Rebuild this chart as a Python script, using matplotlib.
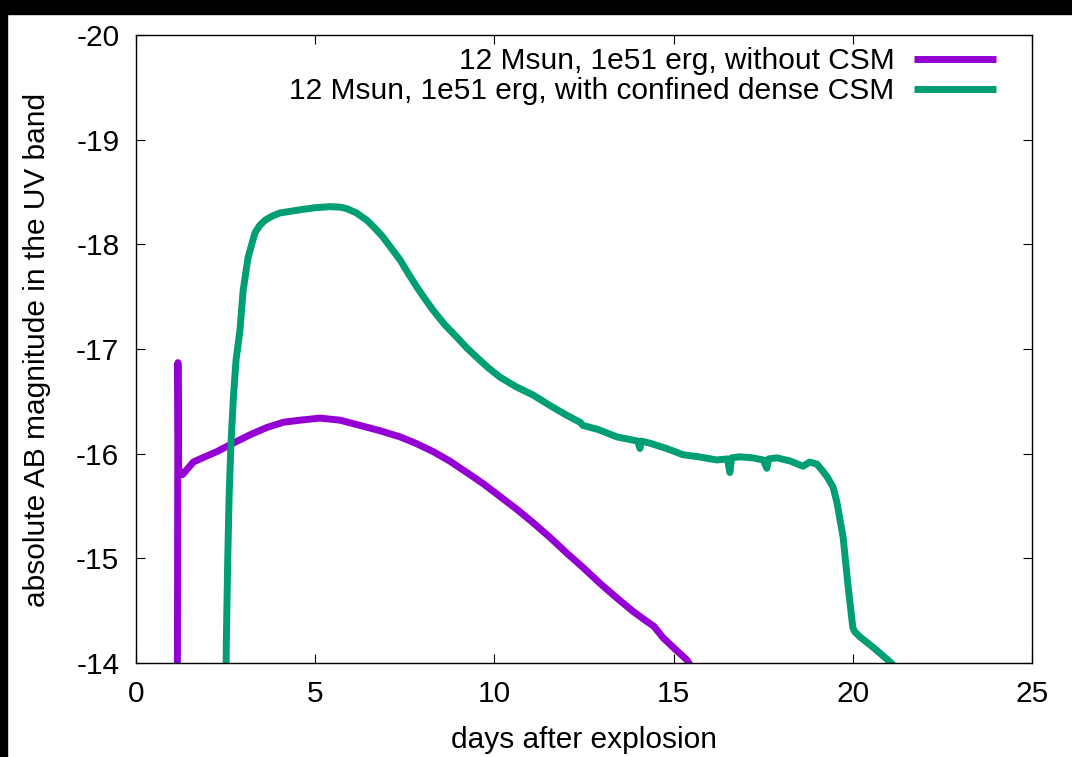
import matplotlib
matplotlib.use("Agg")
import matplotlib.pyplot as plt
import matplotlib.patches as patches

plt.rcParams['font.family'] = ['Liberation Sans', 'DejaVu Sans']
plt.rcParams['axes.unicode_minus'] = False

PURPLE = '#9400d3'
GREEN = '#009e73'
FS = 21.5

# light curves (days, AB mag)
days_no_csm = [1.15, 1.17, 1.19, 1.30, 1.45, 1.60, 1.79, 2.26, 2.71, 3.18, 3.65,
               4.11, 4.58, 5.13, 5.69, 6.25, 6.80, 7.37, 7.80, 8.29, 8.75, 9.23,
               9.70, 10.16, 10.62, 11.08, 11.55, 12.02, 12.48, 12.95, 13.42,
               13.88, 14.20, 14.45, 14.71, 15.05, 15.37, 15.60]
mag_no_csm = [-13.0, -16.87, -15.85, -15.80, -15.86, -15.92, -15.95, -16.02, -16.10,
              -16.18, -16.25, -16.30, -16.32, -16.34, -16.32, -16.27, -16.22,
              -16.16, -16.10, -16.02, -15.93, -15.82, -15.71, -15.59, -15.47,
              -15.34, -15.20, -15.05, -14.91, -14.76, -14.62, -14.49, -14.41,
              -14.35, -14.24, -14.13, -14.03, -13.90]

days_csm = [2.49, 2.52, 2.56, 2.60, 2.65, 2.72, 2.79, 2.90, 2.99, 3.13, 3.32, 3.45,
            3.60, 3.80, 4.02, 4.58, 5.00, 5.41, 5.70, 5.89, 6.15, 6.44, 6.65, 6.89,
            7.13, 7.37, 7.60, 7.84, 8.06, 8.29, 8.62, 8.96, 9.23, 9.51, 9.83,
            10.16, 10.60, 11.08, 11.55, 12.00, 12.39, 12.47, 12.90, 13.42, 14.00,
            14.06, 14.10, 14.34, 14.80, 15.26, 15.70, 16.20, 16.50, 16.57, 16.62,
            16.85, 17.20, 17.50, 17.60, 17.65, 17.88, 18.25, 18.61, 18.80, 19.00,
            19.17, 19.28, 19.45, 19.56, 19.73, 19.87, 20.00, 20.05, 20.20, 20.60,
            21.04, 21.20]
mag_csm = [-13.0, -14.20, -15.00, -15.62, -16.10, -16.55, -16.89, -17.18, -17.56,
           -17.88, -18.11, -18.18, -18.23, -18.27, -18.30, -18.33, -18.35, -18.36,
           -18.355, -18.34, -18.30, -18.23, -18.16, -18.07, -17.96, -17.85, -17.72,
           -17.59, -17.48, -17.37, -17.23, -17.11, -17.01, -16.92, -16.82, -16.73,
           -16.64, -16.56, -16.46, -16.37, -16.30, -16.27, -16.23, -16.16, -16.12,
           -16.05, -16.12, -16.10, -16.05, -15.99, -15.97, -15.94, -15.95, -15.82,
           -15.96, -15.97, -15.96, -15.94, -15.86, -15.95, -15.96, -15.93, -15.88,
           -15.92, -15.90, -15.83, -15.78, -15.68, -15.53, -15.20, -14.73, -14.34,
           -14.30, -14.25, -14.14, -14.01, -13.95]

x_ticks = [0, 5, 10, 15, 20, 25]
y_ticks = [-20, -19, -18, -17, -16, -15, -14]

fig = plt.figure(figsize=(10.72, 7.57), dpi=100)
fig.patch.set_facecolor('white')
# dark frame strips around the screenshot
fig.patches.append(patches.Rectangle((0, 1 - 14 / 757), 1, 14 / 757,
                                     transform=fig.transFigure, color='black', zorder=0))
fig.patches.append(patches.Rectangle((0, 0), 7 / 1072, 1,
                                     transform=fig.transFigure, color='black', zorder=0))

ax = fig.add_axes([136 / 1072, 1 - 663 / 757, 896 / 1072, 628 / 757])

ax.plot(days_no_csm, mag_no_csm, color=PURPLE, lw=5, solid_capstyle='butt',
        label='12 Msun, 1e51 erg, without CSM')
ax.plot(days_csm, mag_csm, color=GREEN, lw=5, solid_capstyle='butt',
        label='12 Msun, 1e51 erg, with confined dense CSM')

ax.set_xlim(0, 25)
ax.set_ylim(-14, -20)
ax.set_xticks(x_ticks)
ax.set_yticks(y_ticks)
ax.tick_params(direction='in', length=6.5, width=0.8, top=True, right=True,
               labelsize=FS)
ax.tick_params(axis='x', pad=12)
ax.tick_params(axis='y', pad=12)
for s in ax.spines.values():
    s.set_linewidth(1.0)

fig.text(37 / 1072, 1 - 350 / 757, 'absolute AB magnitude in the UV band',
         rotation=90, ha='center', va='center', fontsize=FS)
fig.text(584 / 1072, 1 - 740 / 757, 'days after explosion',
         ha='center', va='center', fontsize=FS)

leg = ax.legend(loc='upper right', bbox_to_anchor=(996 / 1072, 1 - 47 / 757),
                bbox_transform=fig.transFigure, frameon=False, markerfirst=False,
                fontsize=FS, handlelength=2.75, handletextpad=0.65,
                labelspacing=0.08, borderpad=0, borderaxespad=0)
for line in leg.get_lines():
    line.set_linewidth(5)

fig.savefig('out.png', dpi=100)
